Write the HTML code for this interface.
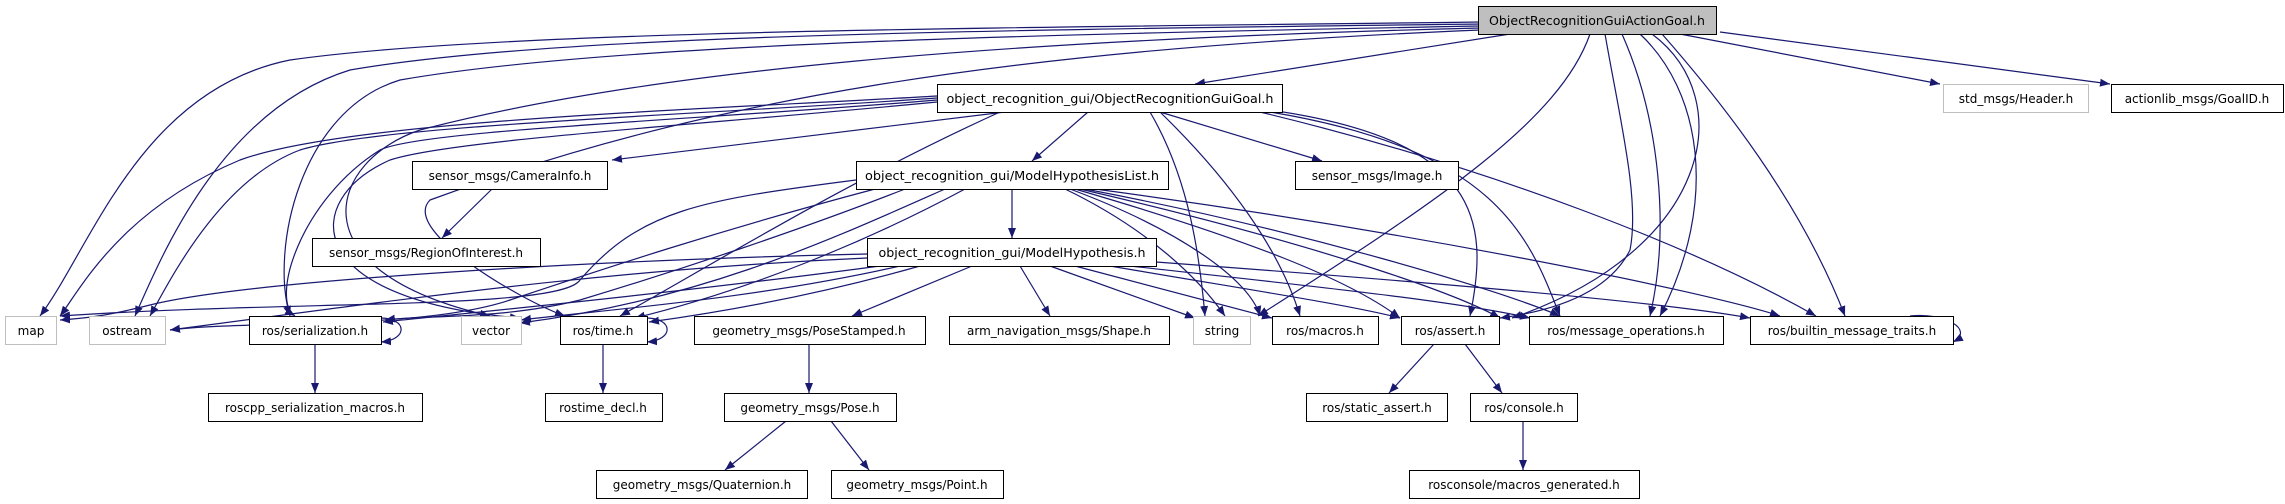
<!DOCTYPE html>
<html><head><meta charset="utf-8"><style>
html,body{margin:0;padding:0;background:#fff;}
svg{display:block;}
text{font-family:"DejaVu Sans","Liberation Sans",sans-serif;font-size:12px;fill:#000;}
.e{fill:none;stroke:#191970;stroke-width:1.2;marker-end:url(#a);}
</style></head><body>
<svg width="2285" height="504" viewBox="0 0 2285 504" xmlns="http://www.w3.org/2000/svg">
<defs><marker id="a" viewBox="0 0 10 10" refX="10" refY="5" markerWidth="10" markerHeight="10" markerUnits="userSpaceOnUse" orient="auto"><path d="M0,1 L10,5 L0,9 z" fill="#191970"/></marker></defs>

<!-- edges from top node -->
<path class="e" d="M1480,22 C1000,28 500,30 290,60 C140,90 90,250 40,316"/>
<path class="e" d="M1480,24 C1000,30 560,34 350,70 C220,110 160,260 135,316"/>
<path class="e" d="M1480,26 C1000,35 600,45 400,80 C300,110 270,250 290,316"/>
<path class="e" d="M1480,28 C1000,40 650,70 420,130 C330,160 290,270 490,316"/>
<path class="e" d="M1480,30 C1000,50 700,100 430,200 C400,230 520,300 565,316"/>
<path class="e" d="M1510,34 L1195,84"/>
<path class="e" d="M1590,34 C1560,120 1440,200 1258,316"/>
<path class="e" d="M1605,34 C1620,120 1640,200 1630,250 C1610,290 1560,310 1500,318"/>
<path class="e" d="M1622,34 C1660,120 1670,230 1650,316"/>
<path class="e" d="M1640,34 C1700,90 1720,200 1660,316"/>
<path class="e" d="M1652,34 C1740,100 1710,250 1512,318"/>
<path class="e" d="M1662,34 C1720,100 1800,200 1845,316"/>
<path class="e" d="M1680,34 L1940,84"/>
<path class="e" d="M1720,32 L2110,84"/>

<!-- edges from Goal -->
<path class="e" d="M1005,112 L612,160"/>
<path class="e" d="M1088,112 L1032,161"/>
<path class="e" d="M1160,112 L1322,161"/>
<path class="e" d="M937,96 C700,110 350,120 240,160 C120,210 80,290 60,316"/>
<path class="e" d="M937,98 C700,115 380,125 300,150 C220,180 170,280 150,316"/>
<path class="e" d="M937,100 C700,120 420,130 380,150 C300,200 270,300 295,316"/>
<path class="e" d="M937,102 C700,125 450,140 390,160 C300,200 300,300 520,318"/>
<path class="e" d="M1000,112 C850,180 720,260 620,316"/>
<path class="e" d="M1150,112 C1190,180 1200,260 1205,316"/>
<path class="e" d="M1160,112 C1230,180 1280,250 1300,316"/>
<path class="e" d="M1270,110 C1480,140 1490,220 1470,316"/>
<path class="e" d="M1270,112 C1500,150 1530,240 1560,316"/>
<path class="e" d="M1260,112 C1500,170 1700,250 1816,316"/>

<!-- edges from ModelHypothesisList -->
<path class="e" d="M1012,189 L1012,238"/>
<path class="e" d="M856,180 C700,200 640,210 580,280 C560,310 300,300 60,316"/>
<path class="e" d="M875,189 C720,230 600,270 510,300 C420,330 250,320 170,330"/>
<path class="e" d="M905,189 C800,230 680,270 580,300 C500,320 420,315 385,320"/>
<path class="e" d="M945,189 C830,240 700,300 520,323"/>
<path class="e" d="M965,189 C870,240 750,290 635,318"/>
<path class="e" d="M1065,189 C1150,230 1200,280 1225,316"/>
<path class="e" d="M1070,189 C1180,230 1250,280 1260,316"/>
<path class="e" d="M1075,189 C1250,240 1350,280 1400,318"/>
<path class="e" d="M1080,189 C1300,240 1450,290 1500,318"/>
<path class="e" d="M1085,189 C1300,230 1500,290 1560,316"/>
<path class="e" d="M1095,189 C1400,230 1700,290 1780,316"/>

<!-- edges from ModelHypothesis -->
<path class="e" d="M867,254 C600,260 250,280 150,305 C110,315 90,318 60,320"/>
<path class="e" d="M867,258 C600,270 400,300 170,330"/>
<path class="e" d="M880,266 C700,290 500,310 383,322"/>
<path class="e" d="M900,266 C750,300 600,310 521,320"/>
<path class="e" d="M920,266 C800,300 700,315 649,322"/>
<path class="e" d="M972,266 L852,316"/>
<path class="e" d="M1020,266 L1050,316"/>
<path class="e" d="M1050,266 L1195,318"/>
<path class="e" d="M1075,266 L1272,318"/>
<path class="e" d="M1110,266 C1250,290 1350,305 1400,318"/>
<path class="e" d="M1130,266 C1300,285 1450,300 1530,318"/>
<path class="e" d="M1156,262 C1400,280 1650,300 1750,318"/>

<!-- lower edges -->
<path class="e" d="M492,189 L442,238"/>
<path class="e" d="M315,344 L315,393"/>
<path class="e" d="M603,344 L603,393"/>
<path class="e" d="M809,344 L809,393"/>
<path class="e" d="M786,421 L725,470"/>
<path class="e" d="M831,421 L869,470"/>
<path class="e" d="M1434,344 L1389,393"/>
<path class="e" d="M1465,344 L1502,393"/>
<path class="e" d="M1523,421 L1523,470"/>
<path class="e" d="M380,318 C408,318 408,340 381,342"/>
<path class="e" d="M646,318 C674,318 674,340 647,342"/>
<path class="e" d="M1910,316 C1945,312 1975,330 1953,342"/>

<!-- nodes -->
<g stroke-width="1">
<rect x="1478.5" y="6.5" width="238" height="28" fill="#bfbfbf" stroke="#000"/>
<rect x="937.5" y="84.5" width="345" height="28" fill="#fff" stroke="#000"/>
<rect x="1943.5" y="84.5" width="145" height="28" fill="#fff" stroke="#bfbfbf"/>
<rect x="2111.5" y="84.5" width="172" height="28" fill="#fff" stroke="#000"/>
<rect x="412.5" y="161.5" width="195" height="28" fill="#fff" stroke="#000"/>
<rect x="856.5" y="161.5" width="312" height="28" fill="#fff" stroke="#000"/>
<rect x="1295.5" y="161.5" width="163" height="28" fill="#fff" stroke="#000"/>
<rect x="312.5" y="238.5" width="228" height="28" fill="#fff" stroke="#000"/>
<rect x="867.5" y="238.5" width="289" height="28" fill="#fff" stroke="#000"/>
<rect x="5.5" y="316.5" width="51" height="28" fill="#fff" stroke="#bfbfbf"/>
<rect x="89.5" y="316.5" width="76" height="28" fill="#fff" stroke="#bfbfbf"/>
<rect x="249.5" y="316.5" width="132" height="28" fill="#fff" stroke="#000"/>
<rect x="461.5" y="316.5" width="60" height="28" fill="#fff" stroke="#bfbfbf"/>
<rect x="560.5" y="316.5" width="87" height="28" fill="#fff" stroke="#000"/>
<rect x="694.5" y="316.5" width="231" height="28" fill="#fff" stroke="#000"/>
<rect x="949.5" y="316.5" width="220" height="28" fill="#fff" stroke="#000"/>
<rect x="1193.5" y="316.5" width="57" height="28" fill="#fff" stroke="#bfbfbf"/>
<rect x="1272.5" y="316.5" width="106" height="28" fill="#fff" stroke="#000"/>
<rect x="1401.5" y="316.5" width="98" height="28" fill="#fff" stroke="#000"/>
<rect x="1529.5" y="316.5" width="194" height="28" fill="#fff" stroke="#000"/>
<rect x="1750.5" y="316.5" width="203" height="28" fill="#fff" stroke="#000"/>
<rect x="208.5" y="393.5" width="214" height="28" fill="#fff" stroke="#000"/>
<rect x="545.5" y="393.5" width="117" height="28" fill="#fff" stroke="#000"/>
<rect x="724.5" y="393.5" width="172" height="28" fill="#fff" stroke="#000"/>
<rect x="1306.5" y="393.5" width="141" height="28" fill="#fff" stroke="#000"/>
<rect x="1470.5" y="393.5" width="107" height="28" fill="#fff" stroke="#000"/>
<rect x="596.5" y="470.5" width="211" height="28" fill="#fff" stroke="#000"/>
<rect x="831.5" y="470.5" width="172" height="28" fill="#fff" stroke="#000"/>
<rect x="1409.5" y="470.5" width="230" height="28" fill="#fff" stroke="#000"/>
</g>
<g text-anchor="middle">
<text x="1597" y="25" textLength="216" lengthAdjust="spacingAndGlyphs">ObjectRecognitionGuiActionGoal.h</text>
<text x="1110" y="103" textLength="327" lengthAdjust="spacingAndGlyphs">object_recognition_gui/ObjectRecognitionGuiGoal.h</text>
<text x="2016" y="103">std_msgs/Header.h</text>
<text x="2197" y="103">actionlib_msgs/GoalID.h</text>
<text x="510" y="180">sensor_msgs/CameraInfo.h</text>
<text x="1012" y="180" textLength="294" lengthAdjust="spacingAndGlyphs">object_recognition_gui/ModelHypothesisList.h</text>
<text x="1377" y="180">sensor_msgs/Image.h</text>
<text x="426" y="257">sensor_msgs/RegionOfInterest.h</text>
<text x="1012" y="257" textLength="267" lengthAdjust="spacingAndGlyphs">object_recognition_gui/ModelHypothesis.h</text>
<text x="31" y="335">map</text>
<text x="127" y="335">ostream</text>
<text x="315" y="335">ros/serialization.h</text>
<text x="491" y="335">vector</text>
<text x="603" y="335">ros/time.h</text>
<text x="809" y="335">geometry_msgs/PoseStamped.h</text>
<text x="1059" y="335">arm_navigation_msgs/Shape.h</text>
<text x="1222" y="335">string</text>
<text x="1325" y="335">ros/macros.h</text>
<text x="1450" y="335">ros/assert.h</text>
<text x="1626" y="335">ros/message_operations.h</text>
<text x="1852" y="335">ros/builtin_message_traits.h</text>
<text x="315" y="412">roscpp_serialization_macros.h</text>
<text x="603" y="412">rostime_decl.h</text>
<text x="810" y="412">geometry_msgs/Pose.h</text>
<text x="1377" y="412">ros/static_assert.h</text>
<text x="1524" y="412">ros/console.h</text>
<text x="702" y="489">geometry_msgs/Quaternion.h</text>
<text x="917" y="489">geometry_msgs/Point.h</text>
<text x="1524" y="489">rosconsole/macros_generated.h</text>
</g>
</svg>
</body></html>
